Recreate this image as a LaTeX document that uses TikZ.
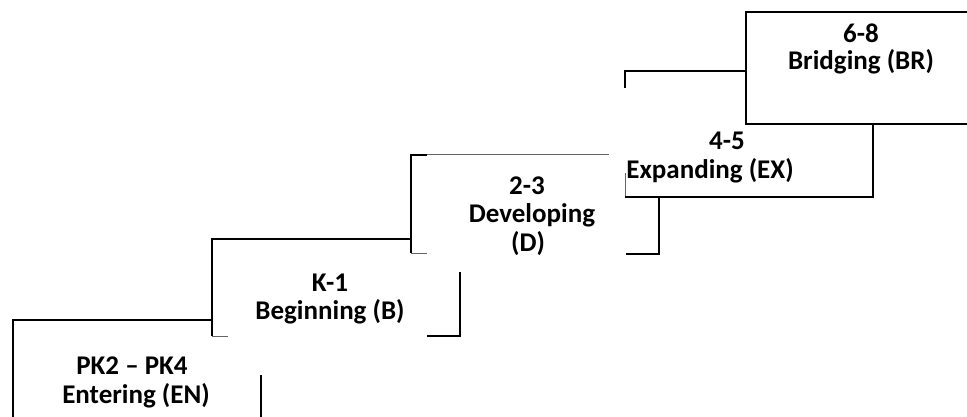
\documentclass[tikz,border=0pt]{standalone}
\usepackage{fontspec}
\setmainfont{Carlito}
\begin{document}
\begin{tikzpicture}[x=1pt,y=-1pt,
  edge/.style={line width=1.8pt,black},
  faint/.style={line width=1pt,black!60},
  lbl/.style={font=\bfseries\fontsize{27}{29}\selectfont,align=center,inner sep=0pt}]
\useasboundingbox (0,0) rectangle (967,417);
% box 1
\draw[edge] (13,417.5)--(13,320)--(212,320);
\draw[edge] (261,375)--(261,417.5);
% box 2
\draw[edge] (212,336)--(212,239)--(411,239);
\draw[faint] (212,336)--(228,336);
\draw[edge] (460,272)--(460,336)--(427,336);
% box 3
\draw[edge] (411,253)--(411,155)--(427,155);
\draw[faint] (427,155)--(609,155);
\draw[faint] (411,253)--(427,253);
\draw[edge] (626,254)--(659,254)--(659,197);
% box 4
\draw[edge] (625,88)--(625,71)--(746,71);
\draw[faint] (625,173)--(625,197);
\draw[edge] (625,197)--(873,197)--(873,124);
% box 5
\draw[edge] (967.5,12)--(746,12)--(746,124)--(967.5,124);
% labels
\node[lbl] (en1) at (132,366) {PK2 – PK4};
\node[lbl] (en2) at (136,396) {Entering (EN)};
\node[lbl] (b1) at (330,283) {K-1};
\node[lbl] (b2) at (330,312) {Beginning (B)};
\node[lbl] (d1) at (527,186) {2-3};
\node[lbl] (d2) at (532,215) {Developing};
\node[lbl] (d3) at (528,244) {(D)};
\node[lbl] (x1) at (727,141) {4-5};
\node[lbl] (x2) at (710,171) {Expanding (EX)};
\node[lbl] (r1) at (861,33) {6-8};
\node[lbl] (r2) at (861,62) {Bridging (BR)};
\end{tikzpicture}
\end{document}
